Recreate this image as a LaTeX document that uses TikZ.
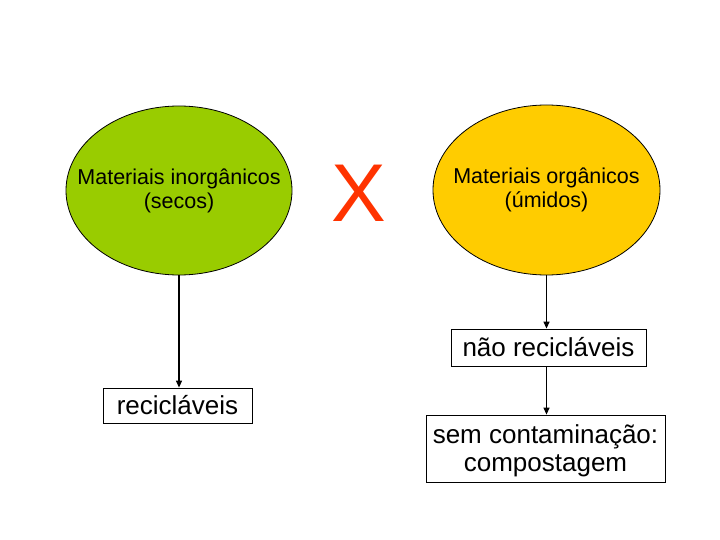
\documentclass[tikz,border=0pt]{standalone}
\usepackage{fontspec}
\setmainfont{Liberation Sans}
\usetikzlibrary{arrows.meta,shapes.geometric}
\definecolor{lgreen}{HTML}{99CC00}
\definecolor{lyellow}{HTML}{FFCC00}
\definecolor{xred}{HTML}{FF3300}
\tikzset{
  oval/.style={ellipse,draw=black,line width=0.8pt,inner sep=0pt,minimum width=226pt,minimum height=169pt},
  ovaltext/.style={align=center,inner sep=0pt,font=\fontsize{21.5}{24}\selectfont},
  labelbox/.style={rectangle,draw=black,line width=0.8pt,inner sep=0pt,align=center,font=\fontsize{26}{28}\selectfont},
  boxtext/.style={align=center,inner sep=0pt,font=\fontsize{26}{27.5}\selectfont},
  conn/.style={line width=1.2pt,-{Triangle[length=7pt,width=6pt]}}
}
\begin{document}
\begin{tikzpicture}[x=1pt,y=-1pt]
\useasboundingbox (0,0) rectangle (720,540);
\node[oval,fill=lgreen] (e1) at (179,190.5) {};
\node[ovaltext] (t1) at (e1.center) {Materiais inorgânicos\\(secos)};
\node[oval,fill=lyellow,minimum width=227pt,minimum height=170pt] (e2) at (546.5,190) {};
\node[ovaltext] (t2) at (e2.center) {Materiais orgânicos\\(úmidos)};
\node[text=xred,font=\fontsize{82}{82}\selectfont,inner sep=0pt] (x) at (359,193) {X};
\node[labelbox,minimum width=149pt,minimum height=35pt] (b1) at (177.5,405.5) {recicláveis};
\node[labelbox,minimum width=195pt,minimum height=37pt] (b2) at (548.5,347.5) {não recicláveis};
\node[labelbox,minimum width=239pt,minimum height=67pt] (b3) at (545.5,448.5) {};
\node[boxtext] (t3) at (545.5,451) {sem contaminação:\\compostagem};
\draw[conn] (e1.south) -- (e1.south |- b1.north);
\draw[conn] (e2.south) -- (e2.south |- b2.north);
\draw[conn] (e2.south |- b2.south) -- (e2.south |- b3.north);
\end{tikzpicture}
\end{document}
